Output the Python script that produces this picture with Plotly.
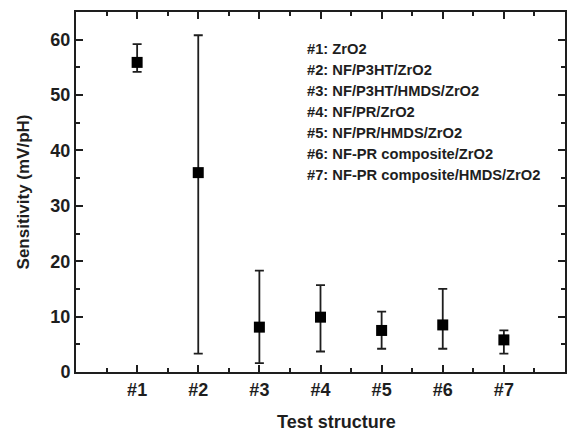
import plotly.graph_objects as go

structures = [1, 2, 3, 4, 5, 6, 7]
tick_labels = ["#1", "#2", "#3", "#4", "#5", "#6", "#7"]
sensitivity = [55.9, 36.0, 8.1, 9.9, 7.5, 8.5, 5.8]
err_upper = [59.2, 60.8, 18.3, 15.7, 10.9, 15.0, 7.5]
err_lower = [54.2, 3.3, 1.6, 3.7, 4.2, 4.2, 3.3]
legend_lines = [
    "#1: ZrO2",
    "#2: NF/P3HT/ZrO2",
    "#3: NF/P3HT/HMDS/ZrO2",
    "#4: NF/PR/ZrO2",
    "#5: NF/PR/HMDS/ZrO2",
    "#6: NF-PR composite/ZrO2",
    "#7: NF-PR composite/HMDS/ZrO2",
]
x_title = "Test structure"
y_title = "Sensitivity (mV/pH)"

plus = [u - v for u, v in zip(err_upper, sensitivity)]
minus = [v - l for v, l in zip(sensitivity, err_lower)]

FONT = "Liberation Sans, Arial, sans-serif"
INK = "#1e1e1e"

fig = go.Figure()
fig.add_trace(go.Scatter(
    x=structures, y=sensitivity, mode="markers",
    marker=dict(symbol="square", size=11, color="black"),
    error_y=dict(type="data", symmetric=False, array=plus, arrayminus=minus,
                 color=INK, thickness=1.8, width=4.5),
    showlegend=False,
))

ann = []
for i, t in enumerate(legend_lines):
    ann.append(dict(
        xref="paper", yref="paper", x=0.468, y=0.897 - i * 0.0583,
        xanchor="left", yanchor="middle", text=t, showarrow=False,
        font=dict(family=FONT, size=14.7, color=INK, weight="bold"),
    ))
ann.append(dict(
    xref="paper", yref="paper", x=0.533, y=-0.139,
    xanchor="center", yanchor="middle", text=x_title, showarrow=False,
    font=dict(family=FONT, size=18, color=INK, weight="bold"),
))

axis_common = dict(
    showline=True, linecolor=INK, linewidth=2, mirror="ticks",
    ticks="inside", ticklen=7, tickwidth=1.6, tickcolor=INK,
    showgrid=False, zeroline=False,
    tickfont=dict(family=FONT, size=18, color=INK, weight="bold"),
)

fig.update_layout(
    width=569, height=431,
    margin=dict(l=76, r=2, t=12, b=59),
    plot_bgcolor="white", paper_bgcolor="white",
    annotations=ann,
    xaxis=dict(
        range=[0, 8], tickvals=structures, ticktext=tick_labels,
        minor=dict(tickvals=[0.5, 1.5, 2.5, 3.5, 4.5, 5.5, 6.5, 7.5],
                   ticks="inside", ticklen=4, tickwidth=1.6, tickcolor=INK),
        **axis_common,
    ),
    yaxis=dict(
        range=[0, 65], tick0=0, dtick=10,
        minor=dict(dtick=5, ticks="inside", ticklen=4, tickwidth=1.6, tickcolor=INK),
        title=dict(text=y_title, standoff=16,
                   font=dict(family=FONT, size=17, color=INK, weight="bold")),
        **axis_common,
    ),
)

fig.write_html("out.html", config={"displayModeBar": False},
               post_script="document.body.style.margin='0';document.body.style.overflow='hidden';")
